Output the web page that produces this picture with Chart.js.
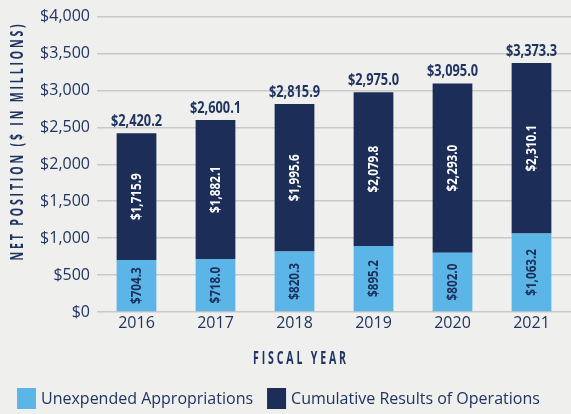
<!DOCTYPE html>
<html>
<head>
<meta charset="utf-8">
<script src="https://cdn.jsdelivr.net/npm/chart.js@4.4.1/dist/chart.umd.min.js"></script>
<style>
  html, body { margin: 0; padding: 0; background: #efefed; }
  #wrap { width: 571px; height: 414px; position: relative; }
</style>
</head>
<body>
<div id="wrap"><canvas id="chart"></canvas></div>
<script>
// chart data
const years = ['2016', '2017', '2018', '2019', '2020', '2021'];
const unexpended = [704.3, 718.0, 820.3, 895.2, 802.0, 1063.2];
const cumulative = [1715.9, 1882.1, 1995.6, 2079.8, 2293.0, 2310.1];
const totals = [2420.2, 2600.1, 2815.9, 2975.0, 3095.0, 3373.3];
const yTicks = [0, 500, 1000, 1500, 2000, 2500, 3000, 3500, 4000];

const NAVY = '#1c2d58';
const LIGHT = '#5bb5e6';
const TEXT = '#1f3461';
const FONT = '"Open Sans", sans-serif';

const money = (v, dec) => '$' + v.toLocaleString('en-US', { minimumFractionDigits: dec, maximumFractionDigits: dec });

// no condensed face installed, so squeeze the text along its own axis
function squeezed(ctx, text, x, y, sx, angle) {
    ctx.save();
    ctx.translate(x, y);
    if (angle) ctx.rotate(angle);
    ctx.scale(sx, 1);
    ctx.fillText(text, 0, 0);
    ctx.restore();
}

// value labels: rotated inside segments, totals on top
const labelPlugin = {
    id: 'labels',
    afterDatasetsDraw(chart) {
        const ctx = chart.ctx;
        ctx.save();
        ctx.textAlign = 'center';
        ctx.textBaseline = 'middle';
        ctx.font = 'bold 15px ' + FONT;
        chart.data.datasets.forEach((ds, di) => {
            const meta = chart.getDatasetMeta(di);
            ctx.fillStyle = di === 0 ? NAVY : '#ffffff';
            meta.data.forEach((bar, i) => {
                const mid = (bar.y + bar.base) / 2;
                squeezed(ctx, money(ds.data[i], 1), bar.x, mid, 0.78, -Math.PI / 2);
            });
        });
        ctx.font = 'bold 16px ' + FONT;
        ctx.fillStyle = TEXT;
        ctx.textBaseline = 'alphabetic';
        chart.getDatasetMeta(1).data.forEach((bar, i) => {
            squeezed(ctx, money(totals[i], 1), bar.x, bar.y - 7, 0.8);
        });
        ctx.restore();
    }
};

// spaced axis titles + legend
const extrasPlugin = {
    id: 'extras',
    afterDraw(chart) {
        const ctx = chart.ctx;
        ctx.save();
        ctx.fillStyle = TEXT;
        ctx.font = 'bold 17px ' + FONT;
        ctx.letterSpacing = '4.6px';
        ctx.textAlign = 'center';
        ctx.textBaseline = 'middle';
        squeezed(ctx, 'FISCAL YEAR', 301, 359, 0.62);
        squeezed(ctx, 'NET POSITION ($ IN MILLIONS)', 18, 141, 0.62, -Math.PI / 2);
        ctx.letterSpacing = '0px';

        // legend
        ctx.font = '16px ' + FONT;
        ctx.textAlign = 'left';
        let x = 17;
        chart.data.datasets.forEach(ds => {
            ctx.fillStyle = ds.backgroundColor;
            ctx.fillRect(x, 388, 19, 21);
            ctx.fillStyle = TEXT;
            ctx.fillText(ds.label, x + 24, 399);
            x += 24 + ctx.measureText(ds.label).width + 14;
        });
        ctx.restore();
    }
};

new Chart(document.getElementById('chart'), {
    type: 'bar',
    data: {
        labels: years,
        datasets: [
            { label: 'Unexpended Appropriations', data: unexpended, backgroundColor: LIGHT },
            { label: 'Cumulative Results of Operations', data: cumulative, backgroundColor: NAVY }
        ]
    },
    options: {
        responsive: true,
        maintainAspectRatio: false,
        animation: false,
        layout: { padding: { top: 15, right: -4, left: 0, bottom: 0 } },
        datasets: { bar: { barPercentage: 0.503, categoryPercentage: 1 } },
        plugins: {
            tooltip: { enabled: false },
            legend: { display: false }
        },
        scales: {
            x: {
                stacked: true,
                grid: { display: false, drawTicks: false },
                border: { display: false },
                ticks: { color: TEXT, padding: 2, font: { family: FONT, size: 16 } },
                afterFit(scale) { scale.height = 102; }
            },
            y: {
                stacked: true,
                min: 0,
                max: 4000,
                afterBuildTicks(scale) { scale.ticks = yTicks.map(v => ({ value: v })); },
                grid: { color: '#c9c9c7', lineWidth: 1.5, drawTicks: false },
                border: { display: false },
                ticks: {
                    color: TEXT,
                    padding: 7,
                    font: { family: FONT, size: 16 },
                    callback: v => money(v, 0)
                },
                afterFit(scale) { scale.width = 97; }
            }
        }
    },
    plugins: [labelPlugin, extrasPlugin]
});
</script>
</body>
</html>
